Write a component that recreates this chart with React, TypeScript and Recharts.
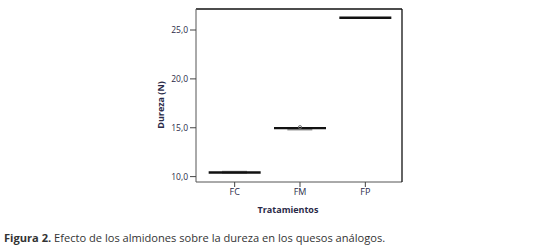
import React from 'react';
import { ComposedChart, Bar, Scatter, XAxis, YAxis } from 'recharts';

const categories = ['FC', 'FM', 'FP'];
const q1Values = [10.3, 14.72, 26.22];
const q3Values = [10.6, 14.95, 26.22];
const medianValues = [10.42, 14.96, 26.25];
const outlierValues: (number | null)[] = [null, 15.06, null];
const yTicks = [10, 15, 20, 25];
const yDomain = [9.45, 27.15];

const data = categories.map((cat, i) => ({
  cat,
  q1: q1Values[i],
  q3: q3Values[i],
  median: medianValues[i],
  outlier: outlierValues[i],
}));

const TEXT = '#2a2a48';
const FONT = '"Open Sans", sans-serif';

const MedianShape = (props: any) => {
  const { cx, cy } = props;
  if (cx == null || cy == null || isNaN(cy)) return null;
  return <line x1={cx - 26} x2={cx + 26} y1={cy} y2={cy} stroke="#111" strokeWidth={2.4} />;
};

const OutlierShape = (props: any) => {
  const { cx, cy, payload } = props;
  if (!payload || payload.outlier == null || cy == null || isNaN(cy)) return null;
  return <circle cx={cx} cy={cy} r={1.6} fill="none" stroke="#666" strokeWidth={0.9} />;
};

const YLabel = (props: any) => {
  const vb = props.viewBox || {};
  const x = (vb.x ?? 150) + 10;
  const y = 105;
  return (
    <text
      x={x}
      y={y}
      transform={`rotate(-90, ${x}, ${y})`}
      textAnchor="middle"
      dominantBaseline="central"
      fontFamily={FONT}
      fontSize={9}
      fontWeight="bold"
      fill={TEXT}
    >
      Dureza (N)
    </text>
  );
};

export default function App() {
  return (
    <div style={{ position: 'absolute', left: 0, top: 0, width: 559, height: 246, background: '#fff' }}>
      <ComposedChart
        width={559}
        height={246}
        data={data}
        margin={{ top: 8, right: 156, bottom: 24, left: 150 }}
      >
        <XAxis
          dataKey="cat"
          type="category"
          padding={{ left: 6, right: 4 }}
          axisLine={{ stroke: '#555', strokeWidth: 1 }}
          tickLine={{ stroke: '#444' }}
          tickSize={5}
          height={40}
          tick={{ fontFamily: FONT, fontSize: 9, fill: TEXT }}
          label={{
            value: 'Tratamientos',
            position: 'insideBottom',
            offset: 9,
            dx: -11,
            fontFamily: FONT,
            fontSize: 9,
            fontWeight: 'bold',
            fill: TEXT,
          }}
        />
        <XAxis
          xAxisId="top"
          dataKey="cat"
          type="category"
          orientation="top"
          height={1}
          tick={false}
          tickLine={false}
          axisLine={{ stroke: '#111', strokeWidth: 1.3 }}
        />
        <YAxis
          type="number"
          domain={yDomain}
          ticks={yTicks}
          allowDataOverflow
          width={46}
          tickSize={6}
          axisLine={{ stroke: '#555', strokeWidth: 1 }}
          tickLine={{ stroke: '#444' }}
          tick={{ fontFamily: FONT, fontSize: 8.5, fill: TEXT }}
          tickFormatter={(v: number) => v.toFixed(1).replace('.', ',')}
          label={<YLabel />}
        />
        <YAxis
          yAxisId="right"
          orientation="right"
          type="number"
          domain={yDomain}
          width={1}
          tick={false}
          tickLine={false}
          axisLine={{ stroke: '#111', strokeWidth: 1.3 }}
        />
        <Bar
          dataKey={(d: any) => [d.q1, d.q3]}
          fill="#9a9a9a"
          barSize={25}
          isAnimationActive={false}
        />
        <Scatter dataKey="median" shape={<MedianShape />} isAnimationActive={false} />
        <Scatter dataKey="outlier" shape={<OutlierShape />} isAnimationActive={false} />
      </ComposedChart>
      <div
        style={{
          position: 'absolute',
          left: 4,
          top: 231,
          fontFamily: FONT,
          fontSize: 11.1,
          color: '#333',
          whiteSpace: 'nowrap',
          lineHeight: '14px',
        }}
      >
        <b>Figura 2.</b> Efecto de los almidones sobre la dureza en los quesos análogos.
      </div>
    </div>
  );
}
